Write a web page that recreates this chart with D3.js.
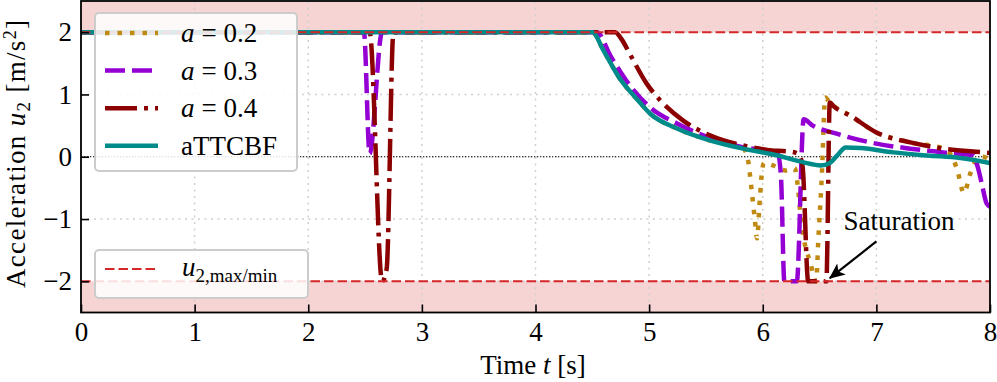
<!DOCTYPE html>
<html>
<head>
<meta charset="utf-8">
<script src="https://cdn.jsdelivr.net/npm/d3@7"></script>
<style>
body{margin:0;background:#fff;}
text{font-family:"Liberation Serif",serif;}
</style>
</head>
<body>
<script>
// <--Data--> //
var xTicks = [0, 1, 2, 3, 4, 5, 6, 7, 8];
var yTicks = [-2, -1, 0, 1, 2];
var uLimit = [2, -2];

var tGold = [0, 4.50, 4.60, 4.74, 4.89, 5.01, 5.25, 5.54, 5.83, 5.87, 5.90, 5.93, 5.95, 5.97, 5.99, 6.01, 6.09, 6.20, 6.28, 6.31, 6.33, 6.36, 6.42, 6.47, 6.49, 6.52, 6.55, 6.59, 6.77, 7.00, 7.30, 7.59, 7.66, 7.71, 7.77, 7.83, 7.88, 7.93, 8.00];
var vGold = [2, 2, 1.70, 1.26, 0.93, 0.69, 0.45, 0.26, 0.13, -0.05, -0.5, -1.0, -1.31, -0.8, -0.3, -0.1, -0.14, -0.22, -0.18, -0.5, -0.9, -1.3, -1.71, -2.0, -1.3, -0.3, 0.95, 0.87, 0.66, 0.39, 0.23, 0.13, 0.02, -0.2, -0.58, -0.25, -0.05, 0.0, -0.05];

var tPurple = [0, 2.49, 2.54, 2.65, 4.54, 4.66, 4.80, 5.01, 5.25, 5.54, 5.83, 6.04, 6.13, 6.16, 6.19, 6.30, 6.36, 6.44, 6.65, 7.00, 7.30, 7.59, 7.85, 7.89, 7.93, 7.97, 8.00];
var vPurple = [2, 2, 0.05, 2, 2, 1.62, 1.22, 0.79, 0.53, 0.30, 0.15, 0.10, 0.06, -0.3, -2.0, -2.0, 0.60, 0.50, 0.37, 0.21, 0.13, 0.07, 0.02, -0.15, -0.45, -0.75, -0.80];

var tRed = [0, 2.54, 2.65, 2.69, 2.75, 4.70, 4.76, 4.83, 4.98, 5.10, 5.30, 5.54, 5.83, 6.04, 6.25, 6.31, 6.35, 6.40, 6.56, 6.59, 6.63, 6.77, 7.00, 7.30, 7.59, 7.94, 8.00];
var vRed = [2, 2, -2.0, -1.8, 2, 2, 1.88, 1.65, 1.17, 0.90, 0.58, 0.34, 0.18, 0.11, 0.08, 0.05, -0.15, -2.0, -2.0, 0.87, 0.80, 0.66, 0.39, 0.23, 0.13, 0.07, 0.06];

var tTeal = [0, 4.50, 4.60, 4.74, 4.89, 5.01, 5.25, 5.54, 5.83, 6.13, 6.36, 6.51, 6.59, 6.66, 6.73, 6.86, 7.15, 7.45, 7.74, 8.00];
var vTeal = [2, 2, 1.70, 1.26, 0.93, 0.69, 0.45, 0.26, 0.13, 0.02, -0.09, -0.14, -0.10, 0.03, 0.15, 0.14, 0.07, 0.02, -0.02, -0.10];

var series = [
  {a: "0.2", t: tGold, v: vGold, color: "#c08a12", dash: "4.5,8"},
  {a: "0.3", t: tPurple, v: vPurple, color: "#9400d3", dash: "20,7"},
  {a: "0.4", t: tRed, v: vRed, color: "#8b0000", dash: "32,7,4,7"},
  {a: null, t: tTeal, v: vTeal, color: "#008b8b", dash: null}
];

// <--Setup--> //
var W = 997, H = 382;
var pL = 81, pR = 990, pT = 1, pB = 312.5;
var fs = 27;

var svg = d3.select("body").append("svg").attr("width", W).attr("height", H);
var x = d3.scaleLinear().domain([0, 8]).range([pL, pR]);
var y = d3.scaleLinear().domain([-2.5, 2.5]).range([pB, pT]);

var defs = svg.append("defs");
defs.append("clipPath").attr("id", "clip")
  .append("rect").attr("x", pL).attr("y", pT).attr("width", pR - pL).attr("height", pB - pT);
defs.append("marker").attr("id", "head")
  .attr("markerUnits", "userSpaceOnUse")
  .attr("markerWidth", 16).attr("markerHeight", 14)
  .attr("refX", 15).attr("refY", 7).attr("orient", "auto")
  .append("path").attr("d", "M0,0 L16,7 L0,14 L4,7 z").attr("fill", "#000");

var plot = svg.append("g").attr("clip-path", "url(#clip)");

// saturation bands
plot.append("rect").attr("x", pL).attr("width", pR - pL)
  .attr("y", y(2.5)).attr("height", y(uLimit[0]) - y(2.5)).attr("fill", "#f6d4d4");
plot.append("rect").attr("x", pL).attr("width", pR - pL)
  .attr("y", y(uLimit[1])).attr("height", y(-2.5) - y(uLimit[1])).attr("fill", "#f6d4d4");

// grid
plot.selectAll(".gx").data(xTicks).enter().append("line")
  .attr("x1", d => x(d)).attr("x2", d => x(d)).attr("y1", pT).attr("y2", pB)
  .attr("stroke", "#cfcfcf").attr("stroke-width", 1.5).attr("stroke-dasharray", "2,4.5");
plot.selectAll(".gy").data(yTicks).enter().append("line")
  .attr("y1", d => y(d)).attr("y2", d => y(d)).attr("x1", pL).attr("x2", pR)
  .attr("stroke", "#cfcfcf").attr("stroke-width", 1.5).attr("stroke-dasharray", "2,4.5");

// zero line
plot.append("line").attr("x1", pL).attr("x2", pR).attr("y1", y(0)).attr("y2", y(0))
  .attr("stroke", "#000").attr("stroke-width", 1.2).attr("stroke-dasharray", "1.3,1.7");

// <--Series--> //
var line = d3.line().x(d => x(d[0])).y(d => y(d[1])).curve(d3.curveMonotoneX);
series.forEach(function(s) {
  plot.append("path")
    .datum(s.t.map((t, i) => [t, s.v[i]]))
    .attr("d", line)
    .attr("fill", "none")
    .attr("stroke", s.color)
    .attr("stroke-width", 4.5)
    .attr("stroke-dasharray", s.dash);
});

// limits on top
plot.selectAll(".lim").data(uLimit).enter().append("line")
  .attr("x1", pL).attr("x2", pR).attr("y1", d => y(d)).attr("y2", d => y(d))
  .attr("stroke", "#d62728").attr("stroke-width", 2).attr("stroke-dasharray", "9.5,4");

// <--Axes--> //
var gx = svg.append("g").attr("transform", "translate(0," + pB + ")")
  .call(d3.axisBottom(x).tickValues(xTicks).tickFormat(d3.format("d")).tickSizeInner(-8).tickSizeOuter(0).tickPadding(9));
var gy = svg.append("g").attr("transform", "translate(" + pL + ",0)")
  .call(d3.axisLeft(y).tickValues(yTicks).tickFormat(d3.format("d")).tickSizeInner(-8).tickSizeOuter(0).tickPadding(9));
[gx, gy].forEach(function(g) {
  g.select(".domain").remove();
  g.selectAll(".tick line").attr("stroke", "#000").attr("stroke-width", 1.6);
  g.selectAll("text").attr("font-size", fs).attr("font-family", "Liberation Serif").attr("fill", "#000");
});

svg.append("rect").attr("x", pL).attr("y", pT).attr("width", pR - pL).attr("height", pB - pT)
  .attr("fill", "none").attr("stroke", "#000").attr("stroke-width", 1.8);

// axis titles
var xl = svg.append("text").attr("x", 533).attr("y", 374).attr("text-anchor", "middle").attr("font-size", fs);
xl.append("tspan").text("Time ");
xl.append("tspan").attr("font-style", "italic").text("t");
xl.append("tspan").text(" [s]");

var yl = svg.append("text").attr("transform", "translate(25,154) rotate(-90)")
  .attr("text-anchor", "middle").attr("font-size", fs)
  .attr("textLength", 268).attr("lengthAdjust", "spacing");
yl.append("tspan").text("Acceleration ");
yl.append("tspan").attr("font-style", "italic").text("u");
yl.append("tspan").attr("font-size", 19).attr("dy", 5).text("2");
yl.append("tspan").attr("dy", -5).text(" [m/s");
yl.append("tspan").attr("font-size", 18).attr("dy", -9).text("2");
yl.append("tspan").attr("dy", 9).text("]");

// <--Legend--> //
var lg = svg.append("g");
lg.append("rect").attr("x", 95).attr("y", 13).attr("width", 202).attr("height", 158).attr("rx", 4)
  .attr("fill", "#fff").attr("fill-opacity", 0.85).attr("stroke", "#cccccc").attr("stroke-width", 2);
series.forEach(function(s, i) {
  var ly = 33 + i * 37.6;
  lg.append("line").attr("x1", 105).attr("x2", 158).attr("y1", ly).attr("y2", ly)
    .attr("stroke", s.color).attr("stroke-width", 4.5).attr("stroke-dasharray", s.dash);
  var t = lg.append("text").attr("x", 181).attr("y", ly + 9).attr("font-size", fs);
  if (s.a) {
    t.append("tspan").attr("font-style", "italic").text("a");
    t.append("tspan").attr("dx", 7).text("= " + s.a);
  } else {
    t.text("aTTCBF");
  }
});

var lg2 = svg.append("g");
lg2.append("rect").attr("x", 95).attr("y", 250).attr("width", 213).attr("height", 48).attr("rx", 4)
  .attr("fill", "#fff").attr("fill-opacity", 0.85).attr("stroke", "#cccccc").attr("stroke-width", 2);
lg2.append("line").attr("x1", 105).attr("x2", 158).attr("y1", 269).attr("y2", 269)
  .attr("stroke", "#d62728").attr("stroke-width", 2).attr("stroke-dasharray", "9.5,4");
var t2 = lg2.append("text").attr("x", 182).attr("y", 276).attr("font-size", fs);
t2.append("tspan").attr("font-style", "italic").text("u");
t2.append("tspan").attr("font-size", 19).attr("dy", 6).text("2,max/min");

// <--Annotation--> //
svg.append("line")
  .attr("x1", x(7.0)).attr("y1", y(-1.36)).attr("x2", x(6.59)).attr("y2", y(-1.95))
  .attr("stroke", "#000").attr("stroke-width", 2.2).attr("marker-end", "url(#head)");
svg.append("text").attr("x", x(6.71)).attr("y", y(-1.18)).attr("font-size", fs).text("Saturation");
</script>
</body>
</html>
